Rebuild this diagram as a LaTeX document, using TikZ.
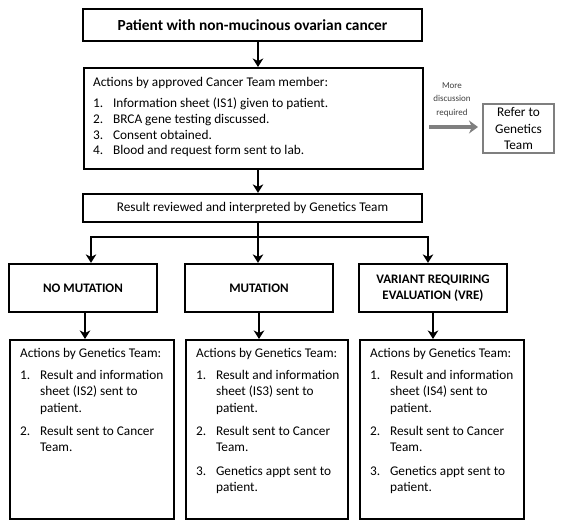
\documentclass[tikz,border=0pt]{standalone}
\usepackage{fontspec}
\setmainfont{Carlito}
\usetikzlibrary{arrows.meta}
\definecolor{refgray}{HTML}{7F7F7F}
\definecolor{lblgray}{HTML}{404040}
\newcommand{\litem}[2]{\par\hangindent=20pt\hangafter=1\noindent\makebox[20pt][l]{#1}#2}
\newcommand{\boxsetup}[1]{\setlength{\leftskip}{#1}\rightskip=0pt plus 1fil\parindent=0pt\parskip=0pt}
\begin{document}
\begin{tikzpicture}[x=1pt,y=-1pt,
  font=\fontsize{13.3}{16.5}\selectfont,
  box/.style={draw=black, line width=2.2pt, inner sep=0pt},
  titlebox/.style={box, minimum width=148pt, minimum height=48pt, align=center, font=\fontsize{13}{16.5}\selectfont\bfseries},
  arr/.style={line width=2.2pt, -{Stealth[length=8.5pt,width=10.5pt,inset=2.5pt]}},
  link/.style={line width=2.2pt, line cap=rect},
  garr/.style={draw=refgray, line width=3.5pt, -{Stealth[length=9pt,width=13pt,inset=3pt]}}]
\useasboundingbox (0,0) rectangle (566,526);
\fill[white] (0,0) rectangle (566,526);

% column / connector coordinates
\coordinate (mid) at (258,0);
\coordinate (bl) at (91,237);
\coordinate (bm) at (258,237);
\coordinate (br) at (428,237);
\coordinate (c1) at (85,0);
\coordinate (c2) at (259,0);
\coordinate (c3) at (433,0);
\coordinate (gs) at (429,127);

% top boxes
\node[box, minimum width=339pt, minimum height=32pt, font=\fontsize{15.4}{18}\selectfont\bfseries] (pat) at (252.5,25) {Patient with non-mucinous ovarian cancer};

\node[box, anchor=north west] (act) at (83,67) {\begin{minipage}[c][101pt][t]{339pt}\boxsetup{9pt}\fontsize{13.3}{15.8}\selectfont
\rule{0pt}{18pt}Actions by approved Cancer Team member:\par
\vspace{5.7pt}
\litem{1.}{Information sheet (IS1) given to patient.}
\litem{2.}{BRCA gene testing discussed.}
\litem{3.}{Consent obtained.}
\litem{4.}{Blood and request form sent to lab.}\par
\end{minipage}};

\node[box, minimum width=339pt, minimum height=28pt] (res) at (252.5,208) {Result reviewed and interpreted by Genetics Team};

% refer
\node[draw=refgray, line width=2pt, minimum width=71pt, minimum height=49pt, inner sep=0pt, align=center] (ref) at (518.5,128.5) {Refer to\\Genetics\\Team};
\node[font=\fontsize{9}{13.5}\selectfont, align=center, text=lblgray, inner sep=0pt] (lbl) at (452,99.5) {More\\discussion\\required};

% result boxes
\node[titlebox] (nm) at (83,288) {NO MUTATION};
\node[titlebox] (mu) at (259,288) {MUTATION};
\node[titlebox] (vre) at (433,288) {VARIANT REQUIRING\\EVALUATION (VRE)};

% action boxes
\node[box, anchor=north west] (ga) at (9,339) {\begin{minipage}[c][179pt][t]{164pt}\boxsetup{10pt}
\rule{0pt}{17pt}Actions by Genetics Team:\par
\vspace{5.5pt}
\litem{1.}{Result and information\\sheet (IS2) sent to\\patient.}\par
\vspace{6.8pt}
\litem{2.}{Result sent to Cancer\\Team.}\par
\end{minipage}};

\node[box, anchor=north west] (gb) at (185,339) {\begin{minipage}[c][179pt][t]{162pt}\boxsetup{10pt}
\rule{0pt}{17pt}Actions by Genetics Team:\par
\vspace{5.5pt}
\litem{1.}{Result and information\\sheet (IS3) sent to\\patient.}\par
\vspace{6.8pt}
\litem{2.}{Result sent to Cancer\\Team.}\par
\vspace{6.8pt}
\litem{3.}{Genetics appt sent to\\patient.}\par
\end{minipage}};

\node[box, anchor=north west] (gc) at (359,339) {\begin{minipage}[c][179pt][t]{164pt}\boxsetup{10pt}
\rule{0pt}{17pt}Actions by Genetics Team:\par
\vspace{5.5pt}
\litem{1.}{Result and information\\sheet (IS4) sent to\\patient.}\par
\vspace{6.8pt}
\litem{2.}{Result sent to Cancer\\Team.}\par
\vspace{6.8pt}
\litem{3.}{Genetics appt sent to\\patient.}\par
\end{minipage}};

% connectors
\draw[arr] (pat.south -| mid) -- (act.north -| mid);
\draw[arr] (act.south -| mid) -- (res.north -| mid);
\draw[link] (res.south -| mid) -- (bm);
\draw[link] (bl) -- (br);
\draw[arr] (bl) -- (nm.north -| bl);
\draw[arr] (bm) -- (mu.north -| bm);
\draw[arr] (br) -- (vre.north -| br);
\draw[arr] (nm.south -| c1) -- (ga.north -| c1);
\draw[arr] (mu.south -| c2) -- (gb.north -| c2);
\draw[arr] (vre.south -| c3) -- (gc.north -| c3);
\draw[garr, shorten >=4pt] (gs) -- (ref.west |- gs);
\end{tikzpicture}
\end{document}
